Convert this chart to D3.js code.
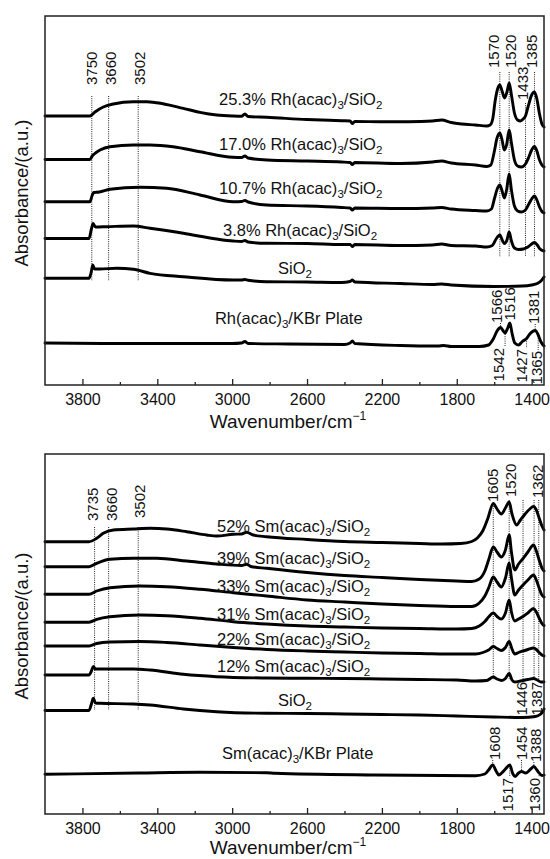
<!DOCTYPE html>
<html>
<head>
<meta charset="utf-8">
<script src="https://cdn.jsdelivr.net/npm/d3@7"></script>
<style>
  html, body { margin: 0; padding: 0; background: #fff; }
  svg { display: block; }
  text { font-family: "Liberation Sans", Arial, sans-serif; fill: #111; }
  .spectrum { fill: none; stroke: #000; stroke-width: 2.9; stroke-linejoin: round; stroke-linecap: round; }
  .guide { stroke: #222; stroke-width: 1; stroke-dasharray: 1 1.2; }
  .frame { fill: none; stroke: #222; stroke-width: 1.5; }
  .tick line { stroke: #222; stroke-width: 1.3; }
</style>
</head>
<body>
<svg id="chart" width="550" height="859"></svg>
<script>
// ---------- axis ----------
const wavenumberDomain = [4000, 1334];
const majorTicks = [3800, 3400, 3000, 2600, 2200, 1800, 1400];
const minorTicks = [3600, 3200, 2800, 2400, 2000, 1600];

// ---------- Rh(acac)3 series: [wavenumber cm-1, absorbance a.u. incl. offset] ----------
const rhLabels = ["25.3% Rh(acac)_3/SiO_2", "17.0% Rh(acac)_3/SiO_2", "10.7% Rh(acac)_3/SiO_2",
                  "3.8% Rh(acac)_3/SiO_2", "SiO_2", "Rh(acac)_3/KBr Plate"];
const rh253 = [[4000,2.69],[3760,2.69],[3733,2.73],[3689,2.78],[3635,2.81],[3528,2.833],[3457,2.833],[3403,2.823],[3261,2.767],[3172,2.727],[3083,2.70],[2994,2.69],[2950,2.688],[2932,2.71],[2915,2.685],[2816,2.677],[2600,2.655],[2415,2.643],[2370,2.64],[2358,2.615],[2345,2.635],[2200,2.632],[2060,2.633],[1930,2.64],[1881,2.65],[1830,2.625],[1774,2.61],[1700,2.60],[1640,2.59],[1622,2.60],[1608,2.66],[1595,2.84],[1582,2.96],[1570,3.00],[1558,2.94],[1545,2.87],[1532,2.93],[1520,3.02],[1508,2.90],[1492,2.72],[1475,2.65],[1460,2.64],[1445,2.66],[1433,2.69],[1418,2.79],[1400,2.90],[1385,2.93],[1372,2.86],[1358,2.71],[1345,2.61],[1334,2.58]];
const rh170 = [[4000,2.255],[3760,2.255],[3748,2.29],[3737,2.31],[3706,2.35],[3653,2.383],[3528,2.40],[3439,2.40],[3316,2.383],[3172,2.333],[2996,2.277],[2950,2.275],[2932,2.29],[2915,2.27],[2814,2.25],[2600,2.24],[2415,2.23],[2370,2.225],[2358,2.205],[2345,2.225],[2100,2.215],[1930,2.23],[1881,2.24],[1830,2.22],[1700,2.20],[1640,2.185],[1618,2.20],[1600,2.33],[1585,2.47],[1570,2.52],[1558,2.45],[1546,2.35],[1534,2.40],[1520,2.55],[1508,2.42],[1492,2.25],[1475,2.19],[1455,2.18],[1433,2.21],[1415,2.28],[1400,2.35],[1385,2.385],[1372,2.34],[1358,2.25],[1345,2.20],[1334,2.18]];
const rh107 = [[4000,1.833],[3760,1.833],[3749,1.89],[3740,1.925],[3710,1.93],[3653,1.957],[3493,1.977],[3350,1.967],[3172,1.90],[2994,1.833],[2950,1.835],[2932,1.845],[2915,1.83],[2816,1.80],[2600,1.79],[2415,1.775],[2370,1.77],[2358,1.75],[2345,1.77],[2100,1.765],[1930,1.77],[1881,1.775],[1830,1.76],[1700,1.745],[1640,1.74],[1615,1.76],[1598,1.87],[1582,1.97],[1570,2.00],[1558,1.94],[1546,1.87],[1534,1.95],[1520,2.11],[1508,1.95],[1492,1.79],[1475,1.74],[1455,1.73],[1433,1.75],[1415,1.81],[1400,1.86],[1385,1.89],[1372,1.85],[1358,1.78],[1345,1.735],[1334,1.72]];
const rh38 = [[4000,1.465],[3765,1.465],[3752,1.56],[3743,1.615],[3730,1.58],[3670,1.583],[3528,1.59],[3439,1.567],[3261,1.517],[3083,1.46],[2994,1.44],[2950,1.435],[2932,1.445],[2915,1.43],[2816,1.417],[2600,1.415],[2415,1.405],[2370,1.405],[2358,1.385],[2345,1.405],[2100,1.395],[1930,1.40],[1881,1.41],[1830,1.395],[1700,1.39],[1640,1.38],[1610,1.395],[1590,1.46],[1570,1.50],[1555,1.44],[1545,1.415],[1532,1.45],[1520,1.53],[1508,1.44],[1492,1.37],[1470,1.355],[1445,1.36],[1420,1.38],[1400,1.41],[1385,1.425],[1370,1.40],[1355,1.36],[1334,1.34]];
const rhSiO2 = [[4000,1.067],[3765,1.067],[3754,1.12],[3745,1.20],[3735,1.16],[3706,1.16],[3617,1.167],[3528,1.157],[3439,1.117],[3261,1.083],[2994,1.05],[2950,1.05],[2932,1.055],[2915,1.047],[2816,1.033],[2600,1.03],[2415,1.025],[2370,1.035],[2358,1.05],[2345,1.03],[2100,1.015],[1930,1.005],[1881,1.01],[1830,1.00],[1600,0.985],[1450,0.99],[1400,1.00],[1370,1.015],[1350,1.04],[1334,1.08]];
const rhPureKBr = [[4000,0.42],[3600,0.415],[3200,0.415],[3000,0.415],[2950,0.42],[2932,0.435],[2915,0.415],[2700,0.41],[2400,0.405],[2370,0.42],[2358,0.44],[2345,0.415],[2100,0.395],[1900,0.39],[1870,0.395],[1830,0.385],[1680,0.385],[1630,0.40],[1605,0.46],[1585,0.54],[1566,0.575],[1555,0.55],[1542,0.52],[1530,0.56],[1516,0.62],[1505,0.52],[1490,0.42],[1470,0.40],[1450,0.435],[1427,0.465],[1410,0.51],[1381,0.545],[1365,0.50],[1350,0.43],[1334,0.39]];
const rhSeries = [rh253, rh170, rh107, rh38, rhSiO2, rhPureKBr];

// ---------- Sm(acac)3 series ----------
const smLabels = ["52% Sm(acac)_3/SiO_2", "39% Sm(acac)_3/SiO_2", "33% Sm(acac)_3/SiO_2", "31% Sm(acac)_3/SiO_2",
                  "22% Sm(acac)_3/SiO_2", "12% Sm(acac)_3/SiO_2", "SiO_2", "Sm(acac)_3/KBr Plate"];
const sm52 = [[4000,2.723],[3765,2.723],[3724,2.757],[3689,2.807],[3635,2.84],[3528,2.85],[3439,2.857],[3350,2.85],[3243,2.823],[3136,2.79],[3083,2.78],[2994,2.797],[2950,2.80],[2923,2.817],[2887,2.79],[2816,2.773],[2600,2.745],[2400,2.725],[2200,2.715],[2000,2.705],[1880,2.70],[1780,2.705],[1720,2.725],[1690,2.76],[1660,2.835],[1635,2.95],[1605,3.105],[1585,3.05],[1562,3.00],[1540,3.06],[1520,3.12],[1505,3.00],[1480,2.89],[1460,2.94],[1435,3.00],[1410,3.05],[1390,3.075],[1375,3.04],[1360,2.96],[1345,2.88],[1334,2.84]];
const sm39 = [[4000,2.473],[3765,2.473],[3724,2.507],[3653,2.547],[3528,2.557],[3403,2.557],[3243,2.53],[3083,2.50],[2950,2.485],[2923,2.497],[2900,2.475],[2816,2.457],[2600,2.415],[2400,2.385],[2200,2.365],[2000,2.345],[1800,2.33],[1720,2.325],[1680,2.35],[1650,2.43],[1630,2.54],[1605,2.67],[1585,2.62],[1562,2.57],[1540,2.64],[1520,2.79],[1508,2.62],[1490,2.44],[1470,2.50],[1446,2.555],[1420,2.62],[1390,2.69],[1375,2.63],[1360,2.54],[1345,2.46],[1334,2.43]];
const sm33 = [[4000,2.197],[3765,2.197],[3724,2.23],[3653,2.263],[3493,2.28],[3350,2.273],[3172,2.247],[2994,2.213],[2816,2.18],[2600,2.14],[2400,2.12],[2200,2.10],[2000,2.085],[1800,2.075],[1720,2.075],[1680,2.11],[1650,2.18],[1630,2.26],[1605,2.37],[1585,2.32],[1562,2.27],[1540,2.36],[1520,2.51],[1508,2.36],[1490,2.19],[1470,2.24],[1446,2.29],[1420,2.34],[1390,2.39],[1375,2.34],[1360,2.26],[1345,2.19],[1334,2.17]];
const sm31 = [[4000,1.917],[3765,1.917],[3724,1.947],[3653,1.973],[3493,1.99],[3350,1.983],[3172,1.957],[2994,1.923],[2816,1.90],[2600,1.88],[2400,1.87],[2200,1.86],[2000,1.855],[1800,1.85],[1720,1.855],[1680,1.88],[1650,1.925],[1630,1.97],[1605,2.01],[1585,1.975],[1562,1.95],[1540,2.01],[1520,2.14],[1508,2.02],[1490,1.93],[1470,1.95],[1446,1.975],[1420,2.01],[1390,2.055],[1375,2.02],[1360,1.96],[1345,1.905],[1334,1.885]];
const sm22 = [[4000,1.68],[3765,1.68],[3724,1.705],[3653,1.72],[3493,1.725],[3350,1.715],[3172,1.69],[2994,1.665],[2816,1.645],[2600,1.63],[2400,1.62],[2200,1.61],[2000,1.605],[1800,1.60],[1700,1.60],[1660,1.615],[1630,1.64],[1605,1.675],[1585,1.655],[1562,1.635],[1540,1.665],[1520,1.725],[1505,1.65],[1490,1.60],[1470,1.615],[1446,1.63],[1420,1.645],[1390,1.66],[1375,1.645],[1360,1.615],[1345,1.59],[1334,1.58]];
const sm12 = [[4000,1.39],[3765,1.39],[3752,1.43],[3742,1.475],[3730,1.45],[3706,1.45],[3528,1.45],[3439,1.44],[3261,1.397],[3083,1.373],[2816,1.36],[2600,1.357],[2400,1.355],[2200,1.35],[2000,1.345],[1800,1.34],[1700,1.33],[1640,1.335],[1605,1.37],[1585,1.35],[1560,1.335],[1540,1.355],[1520,1.405],[1505,1.34],[1490,1.32],[1460,1.33],[1420,1.345],[1390,1.355],[1370,1.34],[1350,1.32],[1334,1.32]];
const smSiO2 = [[4000,1.035],[3765,1.035],[3752,1.10],[3742,1.157],[3730,1.11],[3706,1.107],[3528,1.10],[3439,1.09],[3261,1.05],[3083,1.023],[2816,1.007],[2600,1.005],[2400,1.00],[2200,0.995],[2000,0.99],[1800,0.98],[1600,0.97],[1450,0.965],[1380,0.975],[1355,0.995],[1340,1.025],[1334,1.05]];
const smPureKBr = [[4000,0.397],[3500,0.41],[3172,0.417],[2816,0.413],[2772,0.407],[2238,0.39],[1700,0.383],[1650,0.40],[1630,0.44],[1608,0.49],[1590,0.43],[1575,0.39],[1560,0.41],[1540,0.45],[1517,0.49],[1500,0.40],[1488,0.375],[1470,0.41],[1454,0.425],[1432,0.41],[1405,0.45],[1388,0.475],[1372,0.44],[1360,0.41],[1345,0.385],[1334,0.39]];
const smSeries = [sm52, sm39, sm33, sm31, sm22, sm12, smSiO2, smPureKBr];

// ---------- band assignments (cm-1) ----------
const rhBands = [3750, 3660, 3502, 1570, 1520, 1433, 1385];
const rhPureBandsAbove = [1566, 1516, 1381];
const rhPureBandsBelow = [1542, 1427, 1365];
const smBands = [3735, 3660, 3502, 1605, 1520, 1362];
const smBandsBelow = [1446, 1387];
const smPureBandsAbove = [1608, 1454, 1388];
const smPureBandsBelow = [1517, 1360];

// ---------- layout ----------
const plotLeft = 45, plotRight = 544;
const panels = [
  {
    top: 16, bottom: 385, yMax: 3.69, yTitle: 193, xTitle: 428,
    series: rhSeries, labels: rhLabels,
    // where each curve label starts: [wavenumber, absorbance of baseline]
    labelAt: [[3070, 2.80], [3070, 2.35], [3070, 1.91], [3049, 1.49], [2755, 1.11], [3092, 0.61]],
    bands: [
      [rhBands, {
        3750: {line: [2.89, 1.04], label: 3.00, dx: 0},
        3660: {line: [2.89, 1.04], label: 3.00, dx: 2},
        3502: {line: [2.89, 1.04], label: 3.00, dx: 2},
        1570: {line: [3.13, 1.28], label: 3.17, dx: -6},
        1520: {line: [3.13, 1.28], label: 3.17, dx: 2},
        1433: {line: [2.82, 1.28], label: 2.85, dx: -2.5},
        1385: {line: [3.13, 1.28], label: 3.17, dx: -2.5}
      }],
      [rhPureBandsAbove, {
        1566: {line: [0.62, 0.58], label: 0.62, dx: -4},
        1516: {label: 0.645, dx: 0},
        1381: {line: [0.61, 0.55], label: 0.61, dx: -1}
      }],
      [rhPureBandsBelow, {
        1542: {line: [0.51, 0.38], label: 0.37, dx: -6, below: true},
        1427: {line: [0.46, 0.37], label: 0.36, dx: -5, below: true},
        1365: {line: [0.49, 0.35], label: 0.34, dx: -1, below: true}
      }]
    ]
  },
  {
    top: 454, bottom: 814, yMax: 3.60, yTitle: 626, xTitle: 854,
    series: smSeries, labels: smLabels,
    labelAt: [[3081, 2.82], [3081, 2.50], [3081, 2.22], [3081, 1.94], [3081, 1.69], [3081, 1.42], [2755, 1.08], [3054, 0.55]],
    bands: [
      [smBands, {
        3735: {line: [2.87, 1.04], label: 2.93, dx: -1.5},
        3660: {line: [2.87, 1.04], label: 2.93, dx: 3},
        3502: {line: [2.87, 1.04], label: 2.96, dx: 2},
        1605: {line: [3.08, 1.34], label: 3.12, dx: -1},
        1520: {line: [3.14, 1.34], label: 3.17, dx: 2},
        1362: {line: [3.14, 1.34], label: 3.16, dx: -1}
      }],
      [smBandsBelow, {
        1446: {line: [3.14, 1.34], label: 1.32, dx: -1, below: true},
        1387: {line: [3.14, 1.34], label: 1.32, dx: 3, below: true}
      }],
      [smPureBandsAbove, {
        1608: {line: [0.54, 0.50], label: 0.54, dx: 2},
        1454: {line: [0.54, 0.43], label: 0.54, dx: 0},
        1388: {line: [0.52, 0.48], label: 0.52, dx: 2}
      }],
      [smPureBandsBelow, {
        1517: {line: [0.48, 0.37], label: 0.36, dx: -2, below: true},
        1360: {line: [0.41, 0.37], label: 0.36, dx: -4, below: true}
      }]
    ]
  }
];

const svg = d3.select("#chart");
const x = d3.scaleLinear().domain(wavenumberDomain).range([plotLeft, plotRight]);

// Writes a label such as "SiO_2" with the digit after "_" as a subscript.
function richLabel(sel, str, size) {
  const parts = str.split(/_(\d)/);
  parts.forEach((p, i) => {
    if (!p) return;
    const isSub = i % 2 === 1;
    const t = sel.append("tspan").text(p);
    if (isSub) t.attr("font-size", size * 0.7).attr("dy", 4);
    else if (i > 0) t.attr("dy", -4);
  });
}

panels.forEach(p => {
  const y = d3.scaleLinear().domain([0, p.yMax]).range([p.bottom, p.top]);
  const g = svg.append("g");

  // dotted band guides and their rotated labels
  p.bands.forEach(([list, lay]) => {
    list.forEach(wn => {
      const l = lay[wn];
      if (l.line) {
        g.append("line").attr("class", "guide")
          .attr("x1", x(wn)).attr("x2", x(wn))
          .attr("y1", y(l.line[0])).attr("y2", y(l.line[1]));
      }
      g.append("text")
        .attr("transform", `translate(${x(wn) + l.dx},${y(l.label)}) rotate(-90)`)
        .attr("dy", "0.35em")
        .attr("text-anchor", l.below ? "end" : "start")
        .attr("font-size", 15)
        .text(wn);
    });
  });

  // spectra
  const line = d3.line().x(d => x(d[0])).y(d => y(d[1])).curve(d3.curveMonotoneX);
  g.selectAll("path.spectrum").data(p.series).join("path")
    .attr("class", "spectrum").attr("d", line);

  // curve labels
  p.labels.forEach((lab, i) => {
    const [wn, a] = p.labelAt[i];
    const t = g.append("text").attr("x", x(wn)).attr("y", y(a)).attr("font-size", 16.5);
    richLabel(t, lab, 16.5);
  });

  // frame
  g.append("rect").attr("class", "frame")
    .attr("x", plotLeft).attr("y", p.top)
    .attr("width", plotRight - plotLeft).attr("height", p.bottom - p.top);

  // inward ticks on the wavenumber axis
  const ax = g.append("g").attr("transform", `translate(0,${p.bottom})`)
    .call(d3.axisBottom(x).tickValues(majorTicks).tickSize(-6).tickPadding(9).tickFormat(d3.format("d")));
  ax.select(".domain").remove();
  ax.selectAll("text").attr("font-size", 16).attr("font-family", null).attr("fill", "#111");
  const axMinor = g.append("g").attr("transform", `translate(0,${p.bottom})`)
    .call(d3.axisBottom(x).tickValues(minorTicks).tickSize(-3).tickFormat(""));
  axMinor.select(".domain").remove();

  // axis titles
  const xt = g.append("text").attr("x", 288).attr("y", p.xTitle)
    .attr("text-anchor", "middle").attr("font-size", 19).text("Wavenumber/cm");
  xt.append("tspan").attr("font-size", 12).attr("dy", -8).text("\u22121");

  g.append("text")
    .attr("transform", `translate(22,${p.yTitle}) rotate(-90)`)
    .attr("dy", "0.35em").attr("text-anchor", "middle")
    .attr("font-size", 18.5).text("Absorbance/(a.u.)");
});
</script>
</body>
</html>
